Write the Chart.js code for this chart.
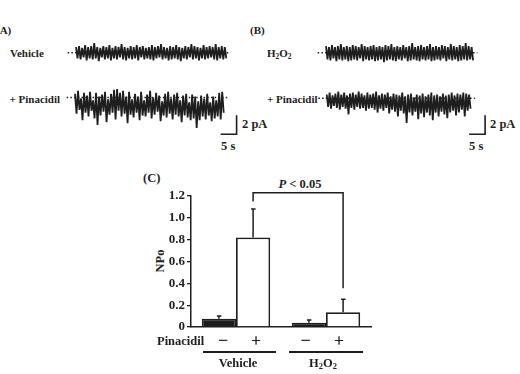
<!DOCTYPE html>
<html>
<head>
<meta charset="utf-8">
<script src="https://cdn.jsdelivr.net/npm/chart.js@4.4.0/dist/chart.umd.min.js"></script>
<style>
  html, body { margin: 0; padding: 0; background: #fff; }
  #page { position: relative; width: 520px; height: 374px; overflow: hidden; background: #fff;
          font-family: "Liberation Serif", "Times New Roman", serif; font-weight: bold; color: #1e1e1e; }
  canvas { position: absolute; }
  .t { position: absolute; line-height: 1; white-space: nowrap; transform: translateY(-50%); }
  .tc { position: absolute; line-height: 1; white-space: nowrap; transform: translate(-50%, -50%); }
  .s { font-size: 11px; }
  .m { font-size: 12.5px; }
  .sg { font-size: 17px; font-weight: normal; -webkit-text-stroke: 0.4px #1e1e1e; }
  sub { font-size: 0.68em; vertical-align: -0.3em; line-height: 0; }
  .rule { position: absolute; height: 1.5px; background: #1e1e1e; }
</style>
</head>
<body>
<div id="page">
  <!-- panel labels, top -->
  <div class="t s" style="left:-4px;top:30px">(A)</div>
  <div class="t s" style="left:250px;top:30px">(B)</div>
  <div class="t s" style="left:10px;top:53px">Vehicle</div>
  <div class="t s" style="left:9.5px;top:99px">+ Pinacidil</div>
  <div class="t s" style="left:267px;top:53px">H<sub>2</sub>O<sub>2</sub></div>
  <div class="t s" style="left:267px;top:98.5px">+ Pinacidil</div>
  <div class="t m" style="left:242px;top:123.5px">2 pA</div>
  <div class="t m" style="left:221px;top:145.5px">5 s</div>
  <div class="t m" style="left:490px;top:123.5px">2 pA</div>
  <div class="t m" style="left:469px;top:145.5px">5 s</div>

  <canvas id="trA1" width="190" height="36" style="left:60px;top:34px"></canvas>
  <canvas id="trA2" width="190" height="62" style="left:60px;top:80px"></canvas>
  <canvas id="trB1" width="190" height="36" style="left:310px;top:34px"></canvas>
  <canvas id="trB2" width="190" height="62" style="left:310px;top:80px"></canvas>

  <!-- panel C -->
  <div class="t m" style="left:143px;top:178px">(C)</div>
  <div class="tc m" style="left:300px;top:184px"><i>P</i> &lt; 0.05</div>
  <div class="tc m" style="left:160px;top:261px;transform:translate(-50%,-50%) rotate(-90deg)">NPo</div>
  <canvas id="npo" width="240" height="160" style="left:140px;top:180px"></canvas>
  <div class="t m" style="left:157px;top:341px">Pinacidil</div>
  <div class="tc sg" style="left:223px;top:340px">&minus;</div>
  <div class="tc sg" style="left:256px;top:340px">+</div>
  <div class="tc sg" style="left:305.5px;top:340px">&minus;</div>
  <div class="tc sg" style="left:339px;top:340px">+</div>
  <div class="rule" style="left:203px;top:351px;width:73px"></div>
  <div class="rule" style="left:289px;top:351px;width:74px"></div>
  <div class="tc m" style="left:238px;top:363px">Vehicle</div>
  <div class="tc m" style="left:323px;top:363px">H<sub>2</sub>O<sub>2</sub></div>
</div>

<script>
// ---- single-channel traces (pA, upward positive), upper / lower excursion per time slice ----
const vehHi = [0.6,0.7,0.5,0.8,0.6,0.7,1.0,0.6,0.5,0.7,0.6,0.8,0.5,0.7,0.6,0.9,0.6,0.5,0.7,0.6,0.8,0.6,0.7,0.5,0.6,0.8,0.6,0.7,0.9,0.6,0.5,0.7,0.6,0.8,0.6,0.5,0.7,0.6,0.9,0.7,0.6,0.5,0.8,0.6,0.7,0.6,0.9,0.6,0.7,0.6];
const vehLo = [-0.6,-0.7,-0.5,-0.8,-0.6,-0.7,-0.6,-0.9,-0.5,-0.7,-0.6,-0.8,-0.6,-0.7,-0.5,-0.7,-0.8,-0.6,-0.7,-0.6,-0.8,-0.5,-0.7,-0.6,-0.7,-0.8,-0.6,-0.5,-0.7,-0.6,-0.8,-0.7,-0.6,-0.7,-0.9,-0.6,-0.7,-0.5,-0.7,-0.6,-0.8,-0.6,-0.7,-0.6,-0.5,-0.7,-0.8,-0.6,-0.7,-0.6];

const pinAHi = [0.4,0.7,-0.1,0.5,0.2,0.6,-0.3,0.5,0.1,0.3,0.6,-0.2,0.4,0.8,0.9,0.5,0.7,0.1,0.6,-0.2,0.4,0.1,0.6,-0.3,0.3,0.7,0.0,0.5,0.2,-0.4,0.4,0.6,-0.1,0.3,0.5,-0.3,0.2,0.4,-0.5,0.3,0.1,-0.4,0.2,-0.1,0.4,-0.5,0.1,-0.3,0.5,0.6];
const pinALo = [-1.7,-1.3,-2.4,-1.6,-2.0,-1.4,-2.2,-2.9,-1.9,-1.5,-2.6,-1.8,-1.6,-2.3,-1.4,-2.0,-1.7,-2.7,-1.8,-2.1,-1.6,-2.4,-1.9,-2.0,-1.6,-2.2,-1.8,-1.5,-2.5,-1.9,-2.1,-1.7,-2.3,-1.8,-2.0,-2.6,-1.9,-2.1,-2.4,-2.2,-3.2,-2.4,-2.0,-2.3,-1.9,-2.5,-2.2,-2.0,-2.3,-1.6];

const h2Hi = [0.7,0.6,0.8,0.6,0.7,0.9,0.6,0.7,0.6,0.8,0.7,0.6,0.9,0.7,0.6,0.7,0.8,0.6,0.7,0.6,0.8,0.7,0.9,0.6,0.7,0.6,0.8,0.6,0.7,1.0,0.6,0.7,0.8,0.6,0.7,0.9,0.6,0.7,0.6,0.8,0.7,0.6,0.9,0.7,0.6,0.8,0.7,1.0,0.7,0.6];
const h2Lo = [-0.7,-0.8,-0.6,-0.9,-0.7,-0.8,-0.7,-0.9,-0.8,-0.7,-0.8,-0.6,-0.9,-0.7,-0.8,-0.7,-0.9,-0.8,-0.7,-1.0,-0.8,-0.7,-0.8,-0.9,-0.7,-0.8,-0.6,-0.9,-0.8,-0.7,-0.8,-0.9,-0.7,-0.8,-0.7,-0.9,-0.8,-0.7,-0.8,-0.6,-0.9,-0.7,-0.8,-0.7,-0.9,-0.8,-0.7,-0.8,-0.7,-0.8];

const pinBHi = [0.4,0.6,0.3,0.5,0.7,0.4,0.6,0.3,0.5,0.6,0.4,0.7,0.5,0.3,0.6,0.4,0.5,0.7,0.3,0.5,0.4,0.6,0.2,0.5,0.4,0.3,0.6,0.2,0.4,0.5,0.1,0.4,0.3,0.5,0.2,0.4,0.6,0.3,0.4,0.2,0.5,0.3,0.4,0.6,0.3,0.5,0.4,0.6,0.5,0.4];
const pinBLo = [-0.9,-1.1,-0.8,-1.0,-1.2,-0.9,-1.1,-1.7,-1.0,-1.2,-0.9,-1.1,-1.0,-1.3,-1.1,-1.0,-1.2,-1.5,-1.1,-1.3,-1.0,-1.6,-1.2,-1.4,-1.9,-1.3,-1.6,-2.6,-1.5,-1.8,-1.4,-2.2,-1.6,-2.0,-1.5,-1.8,-2.3,-1.5,-1.9,-1.4,-1.7,-2.1,-1.5,-1.3,-1.8,-1.5,-1.2,-1.9,-1.3,-1.1];

// ---- NPo summary (panel C) ----
const groups = ['Vehicle', 'H2O2'];
const npoMinus = [0.075, 0.04];    // without pinacidil
const npoPlus = [0.82, 0.135];     // with pinacidil
const semMinus = [0.025, 0.025];
const semPlus = [0.26, 0.12];
const npoTicks = [0, 0.2, 0.4, 0.6, 0.8, 1.0, 1.2];

const INK = '#1e1e1e';
const PX_PER_S = 3.2;     // 5 s scale bar = 16 px
const PX_PER_PA = 9.5;    // 2 pA scale bar = 19 px

// canvasLeft/Top: page position of canvas; x0/y0: page position of trace start / baseline
function trace(id, hi, lo, dur, canvasLeft, canvasTop, x0, y0, bar) {
  const cv = document.getElementById(id);
  const W = cv.width, H = cv.height;
  const dt = dur / (hi.length - 1);
  const zig = [];
  hi.forEach((v, i) => {
    zig.push({ x: i * dt, y: v }, { x: i * dt + dt / 2, y: lo[i] });
  });
  const datasets = [
    { data: zig, borderColor: INK, borderWidth: 1.8, borderJoinStyle: 'bevel', pointRadius: 0, tension: 0 },
    { data: [{ x: -2.6, y: 0 }, { x: dur + 1.8, y: 0 }], borderColor: INK, borderWidth: 1.5,
      borderDash: [1.5, 2.2], pointRadius: 0 }
  ];
  if (bar) {
    datasets.push({ data: [{ x: bar.x - 5, y: bar.y }, { x: bar.x, y: bar.y }, { x: bar.x, y: bar.y + 2 }],
      borderColor: INK, borderWidth: 1.6, pointRadius: 0, tension: 0 });
  }
  new Chart(cv, {
    type: 'line',
    data: { datasets },
    options: {
      responsive: false, animation: false, events: [],
      layout: { padding: 0 },
      plugins: { legend: { display: false }, tooltip: { enabled: false } },
      scales: {
        x: { type: 'linear', display: false,
             min: (canvasLeft - x0) / PX_PER_S, max: (canvasLeft + W - x0) / PX_PER_S },
        y: { display: false,
             min: -(canvasTop + H - y0) / PX_PER_PA, max: (y0 - canvasTop) / PX_PER_PA }
      }
    }
  });
}

trace('trA1', vehHi, vehLo, 46.5, 60, 34, 76, 52.7);
trace('trA2', pinAHi, pinALo, 46, 60, 80, 75, 97.5, { x: 50.5, y: -3.87 });
trace('trB1', h2Hi, h2Lo, 45.5, 310, 34, 326, 52.7);
trace('trB2', pinBHi, pinBLo, 44.5, 310, 80, 326.7, 98.3, { x: 49.5, y: -3.79 });

// error bars + significance bracket
const extras = {
  id: 'extras',
  afterDatasetsDraw(chart) {
    const ctx = chart.ctx, y = chart.scales.y;
    const sems = [semMinus, semPlus];
    ctx.save();
    ctx.strokeStyle = INK;
    ctx.lineWidth = 1.5;
    chart.data.datasets.forEach((ds, d) => {
      chart.getDatasetMeta(d).data.forEach((bar, j) => {
        const top = y.getPixelForValue(ds.data[j] + sems[d][j]);
        ctx.beginPath();
        ctx.moveTo(bar.x, bar.y);
        ctx.lineTo(bar.x, top);
        ctx.moveTo(bar.x - 2, top);
        ctx.lineTo(bar.x + 2.5, top);
        ctx.stroke();
      });
    });
    const plus = chart.getDatasetMeta(1).data;
    const lx = plus[0].x, rx = plus[1].x;
    const yt = y.getPixelForValue(1.23);
    ctx.beginPath();
    ctx.moveTo(lx, y.getPixelForValue(1.15));
    ctx.lineTo(lx, yt);
    ctx.lineTo(rx, yt);
    ctx.lineTo(rx, y.getPixelForValue(0.355));
    ctx.stroke();
    ctx.restore();
  }
};

new Chart(document.getElementById('npo'), {
  type: 'bar',
  data: {
    labels: groups,
    datasets: [
      { label: '-', data: npoMinus, backgroundColor: '#1c1c1c', borderColor: INK, borderWidth: 1.5 },
      { label: '+', data: npoPlus, backgroundColor: '#ffffff', borderColor: INK, borderWidth: 1.8 }
    ]
  },
  options: {
    responsive: false, animation: false, events: [],
    layout: { padding: { top: 16, right: 9, left: 0, bottom: 0 } },
    datasets: { bar: { categoryPercentage: 0.76, barPercentage: 1.0 } },
    plugins: { legend: { display: false }, tooltip: { enabled: false } },
    scales: {
      x: {
        grid: { display: false },
        border: { display: true, color: INK, width: 1.5 },
        ticks: { display: false },
        afterFit: s => { s.height = 13; }
      },
      y: {
        min: 0, max: 1.2,
        afterBuildTicks: s => { s.ticks = npoTicks.map(v => ({ value: v })); },
        grid: { drawOnChartArea: false, drawTicks: true, tickLength: 4, color: INK, lineWidth: 1.3 },
        border: { display: true, color: INK, width: 1.5 },
        ticks: {
          padding: 2, color: INK,
          font: { family: 'Liberation Serif', weight: 'bold', size: 13 },
          callback: v => v === 0 ? '0' : Number(v).toFixed(1)
        },
        afterFit: s => { s.width = 51; }
      }
    }
  },
  plugins: [extras]
});
</script>
</body>
</html>
